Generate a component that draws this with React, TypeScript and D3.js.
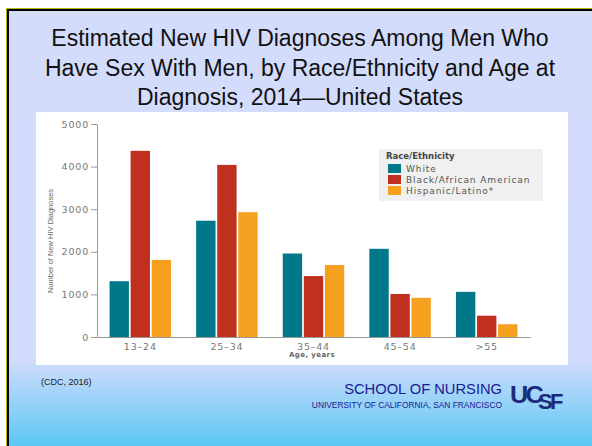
import React, { useEffect, useRef } from 'react';
import * as d3 from 'd3';

const ageGroups = ['13–24', '25–34', '35–44', '45–54', '>55'];
const races = ['White', 'Black/African American', 'Hispanic/Latino*'];
const whiteValues = [1310, 2730, 1960, 2070, 1060];
const blackValues = [4370, 4040, 1430, 1010, 500];
const hispanicValues = [1810, 2930, 1690, 920, 300];
const yTicks = [0, 1000, 2000, 3000, 4000, 5000];
const raceColors = ['#00788a', '#c0301e', '#f5a11f'];

const titleLines = [
  'Estimated New HIV Diagnoses Among Men Who',
  'Have Sex With Men, by Race/Ethnicity and Age at',
  'Diagnosis, 2014—United States',
];

const W = 592;
const H = 446;

const App: React.FC = () => {
  const ref = useRef<SVGSVGElement | null>(null);

  useEffect(() => {
    if (!ref.current) return;
    const svg = d3.select(ref.current);
    svg.selectAll('*').remove();

    // slide background
    const defs = svg.append('defs');
    const grad = defs.append('linearGradient')
      .attr('id', 'bg').attr('x1', 0).attr('y1', 0).attr('x2', 0).attr('y2', 1);
    grad.append('stop').attr('offset', '0').attr('stop-color', '#d4dcfc');
    grad.append('stop').attr('offset', '0.8').attr('stop-color', '#d2dcfc');
    grad.append('stop').attr('offset', '1').attr('stop-color', '#5bc8f5');

    svg.append('rect').attr('width', W).attr('height', H).attr('fill', '#ffffff');
    svg.append('rect').attr('x', 6).attr('y', 8).attr('width', W - 6).attr('height', H - 8).attr('fill', '#b8b800');
    svg.append('rect').attr('x', 7).attr('y', 9).attr('width', W - 7).attr('height', H - 9).attr('fill', '#000');
    svg.append('rect').attr('x', 9).attr('y', 11).attr('width', W - 9).attr('height', H - 11).attr('fill', 'url(#bg)');

    // title
    svg.append('g').selectAll('text')
      .data(titleLines)
      .enter()
      .append('text')
      .attr('x', 300)
      .attr('y', (_, i) => 46 + i * 29.5)
      .attr('text-anchor', 'middle')
      .attr('font-family', 'Liberation Sans, Arial, sans-serif')
      .attr('font-size', 23)
      .attr('fill', '#111')
      .text((d) => d);

    // chart panel
    svg.append('rect').attr('x', 36).attr('y', 112).attr('width', 532).attr('height', 253).attr('fill', '#fff');

    const margin = { left: 97, right: 530, top: 124, bottom: 337 };
    const x0 = d3.scaleBand<string>()
      .domain(ageGroups)
      .range([margin.left, margin.right])
      .paddingInner(0.29)
      .paddingOuter(0.145);
    const x1 = d3.scaleBand<string>()
      .domain(races)
      .range([0, x0.bandwidth()])
      .paddingInner(0.08);
    const y = d3.scaleLinear().domain([0, 5000]).range([margin.bottom, margin.top]);

    const series = [whiteValues, blackValues, hispanicValues];
    const font = 'DejaVu Sans, Verdana, sans-serif';

    // bars
    races.forEach((race, ri) => {
      svg.append('g').selectAll('rect')
        .data(series[ri])
        .enter()
        .append('rect')
        .attr('x', (_, i) => x0(ageGroups[i])! + x1(race)!)
        .attr('y', (d) => y(d))
        .attr('width', x1.bandwidth())
        .attr('height', (d) => y(0) - y(d))
        .attr('fill', raceColors[ri]);
    });

    // y axis
    const yAxis = d3.axisLeft(y).tickValues(yTicks).tickFormat(d3.format('d'))
      .tickSize(6).tickPadding(2).tickSizeOuter(0);
    const gy = svg.append('g').attr('transform', `translate(${margin.left},0)`).call(yAxis);
    gy.select('.domain').attr('stroke', '#999');
    gy.selectAll('.tick line').attr('stroke', '#999');
    gy.selectAll('.tick text')
      .attr('font-family', font)
      .attr('font-size', 9.5)
      .attr('letter-spacing', 0.8)
      .attr('fill', '#777');

    // x axis
    const xAxis = d3.axisBottom(x0).tickSize(0).tickSizeOuter(0).tickPadding(6);
    const gx = svg.append('g').attr('transform', `translate(0,${margin.bottom})`).call(xAxis);
    gx.select('.domain').attr('stroke', '#999');
    gx.selectAll('.tick text')
      .attr('font-family', font)
      .attr('font-size', 9.5)
      .attr('letter-spacing', 0.8)
      .attr('fill', '#777');

    svg.append('text')
      .attr('x', 312).attr('y', 357)
      .attr('text-anchor', 'middle')
      .attr('font-family', font)
      .attr('font-size', 7)
      .attr('font-weight', 'bold')
      .attr('letter-spacing', 0.4)
      .attr('fill', '#666')
      .text('Age, years');

    svg.append('text')
      .attr('transform', 'translate(53,241) rotate(-90)')
      .attr('text-anchor', 'middle')
      .attr('font-family', 'Liberation Sans Narrow, Liberation Sans, sans-serif')
      .attr('font-size', 7.5)
      .attr('fill', '#666')
      .text('Number of New HIV Diagnoses');

    // legend
    const lg = svg.append('g');
    lg.append('rect').attr('x', 379).attr('y', 149).attr('width', 164).attr('height', 52).attr('fill', '#f0f0f0');
    lg.append('text')
      .attr('x', 386).attr('y', 158.5)
      .attr('font-family', font)
      .attr('font-size', 8.5)
      .attr('font-weight', 'bold')
      .attr('fill', '#444')
      .text('Race/Ethnicity');
    const items = lg.selectAll('.item')
      .data(races)
      .enter()
      .append('g')
      .attr('transform', (_, i) => `translate(388,${164 + i * 11})`);
    items.append('rect').attr('width', 13).attr('height', 9).attr('fill', (_, i) => raceColors[i]);
    items.append('text')
      .attr('x', 18).attr('y', 8)
      .attr('font-family', font)
      .attr('font-size', 9)
      .attr('letter-spacing', 0.9)
      .attr('fill', '#555')
      .text((d) => d);

    // footer
    const sans = 'Liberation Sans, Arial, sans-serif';
    svg.append('text')
      .attr('x', 41).attr('y', 385)
      .attr('font-family', sans)
      .attr('font-size', 9)
      .attr('fill', '#222')
      .text('(CDC, 2016)');
    svg.append('text')
      .attr('x', 502).attr('y', 394)
      .attr('text-anchor', 'end')
      .attr('font-family', sans)
      .attr('font-size', 14.7)
      .attr('fill', '#1a2090')
      .text('SCHOOL OF NURSING');
    svg.append('text')
      .attr('x', 502).attr('y', 408)
      .attr('text-anchor', 'end')
      .attr('font-family', sans)
      .attr('font-size', 8.4)
      .attr('fill', '#1a2090')
      .text('UNIVERSITY OF CALIFORNIA, SAN FRANCISCO');

    // logo
    const logo = svg.append('g').attr('font-family', sans).attr('font-weight', 'bold').attr('fill', '#1c2a7a');
    logo.append('text').attr('transform', 'translate(510,403) scale(1.15,1.1)').attr('font-size', 22).attr('letter-spacing', -2.5).text('UC');
    logo.append('text').attr('transform', 'translate(538,409) scale(1.1,1.15)').attr('font-size', 20).attr('letter-spacing', -2.5).text('SF');
  }, []);

  return (
    <svg ref={ref} width={W} height={H} style={{ position: 'absolute', left: 0, top: 0 }} />
  );
};

export default App;
